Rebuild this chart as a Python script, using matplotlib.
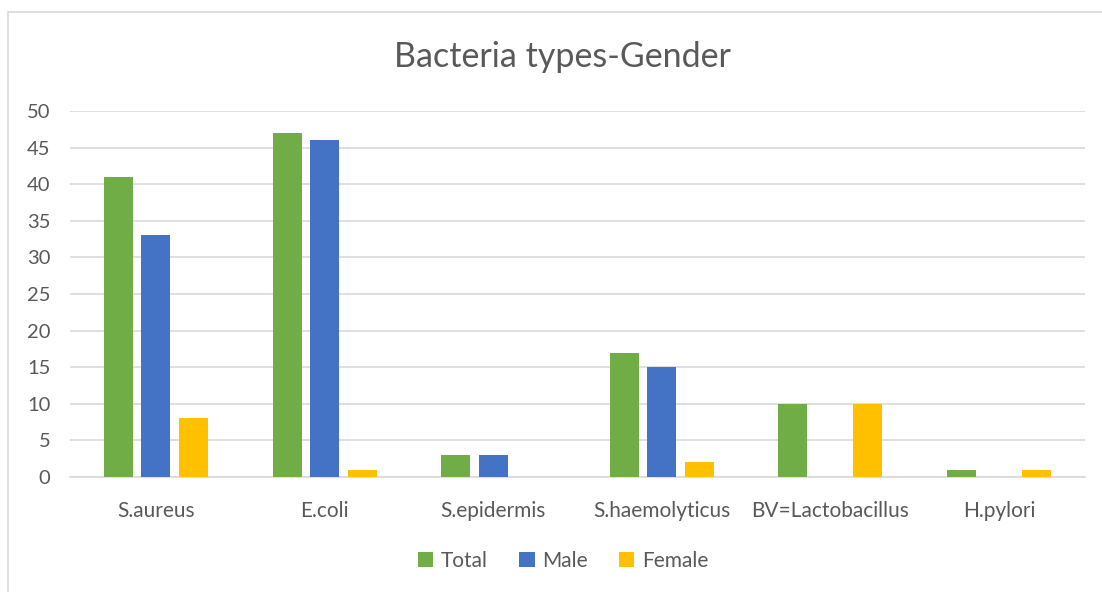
import matplotlib.pyplot as plt
import numpy as np
from matplotlib.patches import Rectangle

# Chart data
categories = ['S.aureus', 'E.coli', 'S.epidermis', 'S.haemolyticus', 'BV=Lactobacillus', 'H.pylori']
total = [41, 47, 3, 17, 10, 1]
male = [33, 46, 3, 15, 0, 0]
female = [8, 1, 0, 2, 10, 1]

plt.rcParams['font.family'] = ['Lato', 'DejaVu Sans']
text_color = '#595959'

fig = plt.figure(figsize=(11.02, 5.92), dpi=100)
ax = fig.add_axes([70 / 1102, 1 - 477 / 592, 1015 / 1102, 366 / 592])

x = np.arange(len(categories))
width = 0.172
step = 0.222

ax.bar(x - step, total, width, color='#70AD47', label='Total', zorder=3)
ax.bar(x, male, width, color='#4472C4', label='Male', zorder=3)
ax.bar(x + step, female, width, color='#FFC000', label='Female', zorder=3)

ax.set_xlim(-0.51, len(categories) - 0.49)
ax.set_ylim(0, 50)
ax.set_yticks(range(0, 51, 5))
ax.set_xticks(x)
ax.set_xticklabels(categories)

# Gridlines and spines
ax.grid(axis='y', color='#D9D9D9', linewidth=1.2, zorder=0)
for side in ['top', 'right', 'left']:
    ax.spines[side].set_visible(False)
ax.spines['bottom'].set_color('#D9D9D9')
ax.spines['bottom'].set_linewidth(1.2)
ax.tick_params(axis='both', length=0, colors=text_color)
ax.tick_params(axis='x', labelsize=15, pad=17)
ax.tick_params(axis='y', labelsize=14.5, pad=14)

# Title and legend are centred on the whole chart box, not the plot area
fig.text(562 / 1102, 1 - 57 / 592, 'Bacteria types-Gender', ha='center', va='center',
         fontsize=24.5, color=text_color)

ax.legend(loc='center', bbox_to_anchor=(563 / 1102, 1 - 561 / 592), bbox_transform=fig.transFigure,
          ncol=3, frameon=False, fontsize=15, labelcolor=text_color,
          handlelength=0.75, handleheight=0.75, handletextpad=0.35, columnspacing=1.5)

# Light chart border (only the left and top edges show in the crop)
fig.patches.append(Rectangle((8 / 1102, -0.1), 1.2, 1 - 12 / 592 + 0.1, transform=fig.transFigure,
                             fill=False, edgecolor='#D9D9D9', linewidth=1.2))

fig.savefig('out.png', dpi=100)
